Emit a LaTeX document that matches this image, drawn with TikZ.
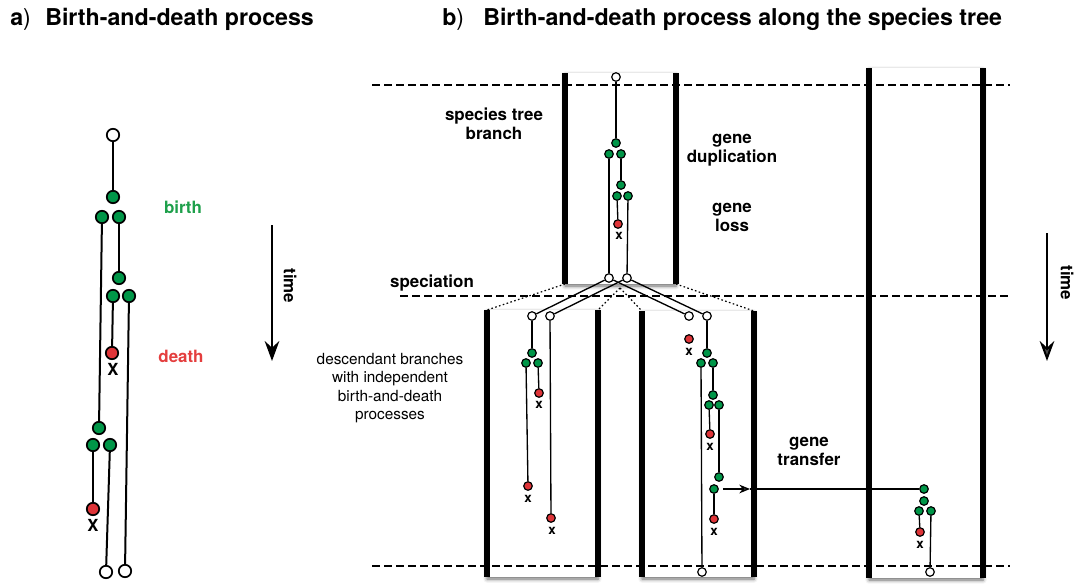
\documentclass[tikz,border=0pt]{standalone}
\usepackage{fontspec}
\setmainfont{TeX Gyre Heros}
\usetikzlibrary{arrows.meta,shadows.blur}
\definecolor{birthgreen}{RGB}{0,150,72}
\definecolor{deathred}{RGB}{222,52,56}
\definecolor{labelgreen}{RGB}{30,160,75}
\definecolor{labelred}{RGB}{228,62,62}

\tikzset{
  evA/.style={circle, draw=black, line width=1.3pt, minimum size=9.3pt, inner sep=0pt},
  birA/.style={evA, fill=birthgreen},
  dthA/.style={evA, fill=deathred},
  leafA/.style={evA, fill=white},
  evB/.style={circle, draw=black, line width=0.9pt, minimum size=6.4pt, inner sep=0pt},
  birB/.style={evB, fill=birthgreen},
  dthB/.style={evB, fill=deathred},
  leafB/.style={evB, fill=white},
  edgeA/.style={line width=1.5pt},
  edgeB/.style={line width=1pt},
  xA/.style={font=\fontsize{12.5}{14}\selectfont\bfseries, inner sep=0pt},
  xB/.style={font=\fontsize{10}{12}\selectfont\bfseries, inner sep=0pt},
  title/.style={font=\fontsize{17.4}{20}\selectfont\bfseries, anchor=base west, inner sep=0pt},
  lbl/.style={font=\fontsize{12.7}{14.3}\selectfont\bfseries, align=center, inner sep=0pt},
  plain/.style={font=\fontsize{11.5}{13.9}\selectfont, align=center, inner sep=0pt},
  branchbox/.style={fill=white, draw=none, blur shadow={shadow xshift=0pt, shadow yshift=-1.5pt, shadow blur radius=2.8pt, shadow opacity=60}},
  wall/.style={line width=3.8pt},
  epoch/.style={line width=1.4pt, dash pattern=on 6pt off 3pt},
  junction/.style={line width=0.9pt, dash pattern=on 1.2pt off 1.8pt},
  timearrow/.style={line width=1.5pt, -{Stealth[length=15pt, width=11pt, inset=5pt]}},
}

\begin{document}
\begin{tikzpicture}[x=0.75pt, y=-0.75pt]
\useasboundingbox (0,0) rectangle (1076,583);

% ---------- titles ----------
\node[title] (ta) at (10,25) {a\textmd{)}};
\node[title] (tat) at (45,25) {Birth-and-death process};
\node[title] (tb) at (442,25) {b\textmd{)}};
\node[title] (tbt) at (483,25) {Birth-and-death process along the species tree};

% ---------- panel a: a single birth-and-death tree ----------
\node[leafA] (a0) at (113,135) {};
\node[birA] (a1) at (113,197) {};
\node[birA] (a2) at (102,217) {};
\node[birA] (a3) at (119,217) {};
\node[birA] (a5) at (119,278) {};
\node[birA] (a6) at (113,296) {};
\node[birA] (a7) at (129,296) {};
\node[dthA] (a8) at (112,353) {};
\node[birA] (a4) at (99,428) {};
\node[birA] (a10) at (93,445) {};
\node[birA] (a11) at (110,445) {};
\node[dthA] (a12) at (93,509) {};
\node[leafA] (a13) at (106,572) {};
\node[leafA] (a9) at (125,571) {};
\draw[edgeA] (a0) -- (a1);
\draw[edgeA] (a2) -- (a4);
\draw[edgeA] (a3) -- (a5);
\draw[edgeA] (a6) -- (a8);
\draw[edgeA] (a7) -- (a9);
\draw[edgeA] (a10) -- (a12);
\draw[edgeA] (a11) -- (a13);
\node[xA] (xa8) at (113,369) {X};
\node[xA] (xa12) at (93,525) {X};

\node[lbl, text=labelgreen] (birth) at (183,207) {birth};
\node[lbl, text=labelred] (death) at (181,356) {death};
\coordinate (ta0) at (272,225);
\coordinate (ta1) at (272,361);
\draw[timearrow] (ta0) -- (ta1);
\node[lbl, rotate=-90] (timea) at (290,286) {time};

% ---------- panel b: species tree branches ----------
\path[branchbox] (565,73) rectangle (676,284);
\path[branchbox] (487,310) rectangle (598,577);
\path[branchbox] (642,311) rectangle (754,577);
\path[branchbox] (869,68) rectangle (983,578);
\draw[wall] (565,73) -- (565,284);
\draw[wall] (676,73) -- (676,284);
\draw[wall] (487,310) -- (487,577);
\draw[wall] (598,310) -- (598,577);
\draw[wall] (642,311) -- (642,577);
\draw[wall] (754,311) -- (754,577);
\draw[wall] (869,68) -- (869,578);
\draw[wall] (983,68) -- (983,578);

% speciation junction of the species tree
\coordinate (pl) at (565,284);
\coordinate (pr) at (676,284);
\coordinate (pm) at (620,288);
\coordinate (cl) at (487,310);
\coordinate (clr) at (598,310);
\coordinate (crl) at (642,311);
\coordinate (cr) at (754,311);
\draw[junction] (pl) -- (cl);
\draw[junction] (pm) -- (clr);
\draw[junction] (pm) -- (crl);
\draw[junction] (pr) -- (cr);

% time slices
\draw[epoch] (372,85) -- (1010,85);
\draw[epoch] (400,296) -- (1010,296);
\draw[epoch] (372,566) -- (1010,566);

% gene tree in the ancestral branch
\node[leafB] (t0) at (616,77) {};
\node[birB] (t1) at (616,143) {};
\node[birB] (t2) at (609,154) {};
\node[birB] (t3) at (621,154) {};
\node[birB] (t4) at (621,185) {};
\node[birB] (t5) at (617,196) {};
\node[birB] (t6) at (628,196) {};
\node[dthB] (t7) at (618,224) {};
\node[leafB] (s1) at (609,278) {};
\node[leafB] (s2) at (627,278) {};
\draw[edgeB] (t0) -- (t1);
\draw[edgeB] (t2) -- (s1);
\draw[edgeB] (t3) -- (t4);
\draw[edgeB] (t5) -- (t7);
\draw[edgeB] (t6) -- (s2);
\node[xB] (xt7) at (619,236) {x};

% left descendant branch
\node[leafB] (l0) at (532,316) {};
\node[leafB] (l1) at (550,316) {};
\node[birB] (l2) at (532,353) {};
\node[birB] (l3) at (526,363) {};
\node[birB] (l4) at (538,363) {};
\node[dthB] (l5) at (539,393) {};
\node[dthB] (l6) at (528,486) {};
\node[dthB] (l7) at (551,518) {};
\draw[edgeB] (l0) -- (l2);
\draw[edgeB] (l4) -- (l5);
\draw[edgeB] (l3) -- (l6);
\draw[edgeB] (l1) -- (l7);
\node[xB] (xl5) at (539,405) {x};
\node[xB] (xl6) at (528,499) {x};
\node[xB] (xl7) at (552,531) {x};

% right descendant branch
\node[leafB] (m0) at (689,316) {};
\node[leafB] (m1) at (707,316) {};
\node[dthB] (m2) at (689,339) {};
\node[birB] (m3) at (707,353) {};
\node[birB] (m4) at (701,363) {};
\node[birB] (m5) at (713,363) {};
\node[birB] (m7) at (713,395) {};
\node[birB] (m8) at (709,405) {};
\node[birB] (m9) at (719,405) {};
\node[dthB] (m10) at (710,434) {};
\node[birB] (m11) at (719,477) {};
\node[birB] (m12) at (714,489) {};
\node[dthB] (m13) at (714,519) {};
\node[leafB] (m6) at (702,572) {};
\draw[edgeB] (m1) -- (m3);
\draw[edgeB] (m4) -- (m6);
\draw[edgeB] (m5) -- (m7);
\draw[edgeB] (m8) -- (m10);
\draw[edgeB] (m9) -- (m11);
\draw[edgeB] (m12) -- (m13);
\node[xB] (xm2) at (689,352) {x};
\node[xB] (xm10) at (710,447) {x};
\node[xB] (xm13) at (714,532) {x};

% lineages crossing the speciation
\draw[edgeB] (s1) -- (l0);
\draw[edgeB] (s2) -- (l1);
\draw[edgeB] (s1) -- (m0);
\draw[edgeB] (s2) -- (m1);

% recipient branch
\node[birB] (r0) at (924,489) {};
\node[birB] (r1) at (924,501) {};
\node[birB] (r2) at (919,511) {};
\node[birB] (r3) at (931,511) {};
\node[dthB] (r4) at (920,532) {};
\node[leafB] (r5) at (930,572) {};
\draw[edgeB] (r2) -- (r4);
\draw[edgeB] (r3) -- (r5);
\node[xB] (xr4) at (920,545) {x};

% horizontal gene transfer
\coordinate (htip) at (750,489);
\draw[edgeB, shorten <=3pt, -{Stealth[length=8pt, width=6.5pt, inset=2.5pt]}] (m12) -- (htip);
\draw[edgeB] (htip) -- (r0);

% ---------- panel b labels ----------
\node[lbl] (lbranch) at (494,124) {species tree\\branch};
\node[lbl] (ldup) at (732,150) {gene\\duplication};
\node[lbl] (lloss) at (732,217) {gene\\loss};
\node[lbl] (lspec) at (432,283) {speciation};
\node[plain] (ldesc) at (390,388) {descendant branches\\with independent\\birth-and-death\\processes};
\node[lbl] (ltrans) at (809,451) {gene\\transfer};

\coordinate (tb0) at (1047,233);
\coordinate (tb1) at (1047,361);
\draw[timearrow] (tb0) -- (tb1);
\node[lbl, rotate=-90] (timeb) at (1067,283) {time};
\end{tikzpicture}
\end{document}
